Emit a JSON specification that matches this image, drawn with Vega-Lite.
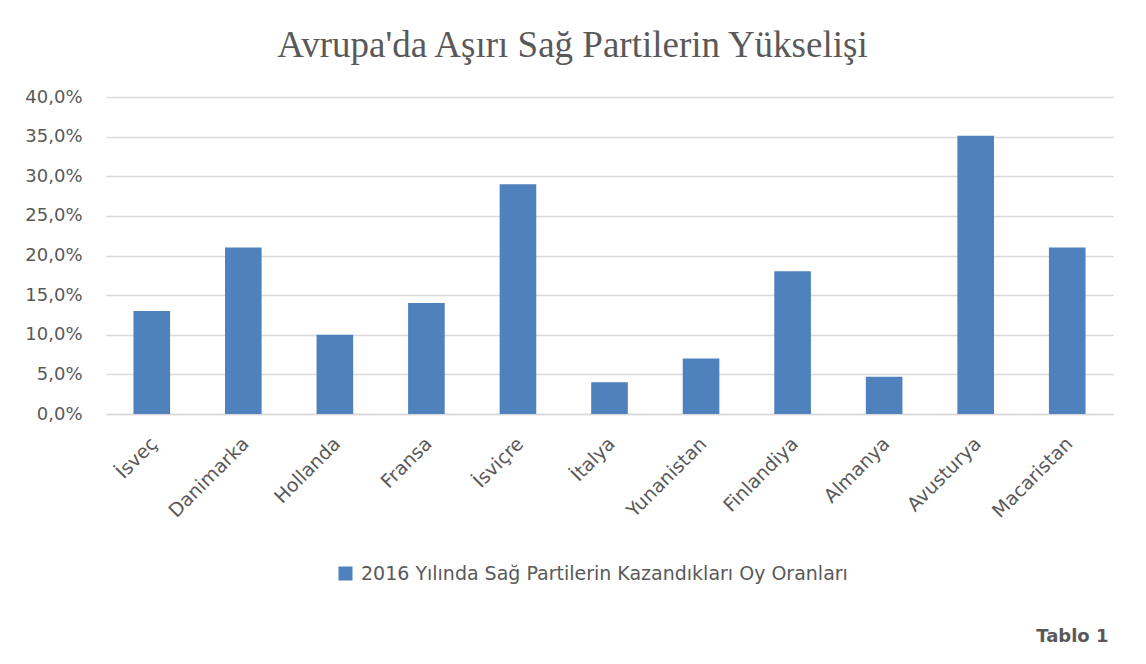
{
  "$schema": "https://vega.github.io/schema/vega-lite/v6.json",
  "autosize": "none",
  "width": 1007,
  "height": 317,
  "padding": {"left": 106, "top": 97, "right": 33, "bottom": 250},
  "background": "white",
  "config": {
    "view": {"stroke": null},
    "locale": {"number": {"decimal": ",", "thousands": ".", "grouping": [3], "currency": ["", " TL"]}},
    "font": "DejaVu Sans"
  },
  "title": {
    "text": "Avrupa'da Aşırı Sağ Partilerin Yükselişi",
    "font": "Liberation Serif",
    "fontSize": 37,
    "fontWeight": "normal",
    "color": "#595959",
    "anchor": "middle",
    "dx": -37,
    "offset": 23
  },
  "data": {
    "values": [
      {"ulke": "İsveç", "oran": 0.13, "seri": "2016 Yılında Sağ Partilerin Kazandıkları Oy Oranları"},
      {"ulke": "Danimarka", "oran": 0.21, "seri": "2016 Yılında Sağ Partilerin Kazandıkları Oy Oranları"},
      {"ulke": "Hollanda", "oran": 0.10, "seri": "2016 Yılında Sağ Partilerin Kazandıkları Oy Oranları"},
      {"ulke": "Fransa", "oran": 0.14, "seri": "2016 Yılında Sağ Partilerin Kazandıkları Oy Oranları"},
      {"ulke": "İsviçre", "oran": 0.29, "seri": "2016 Yılında Sağ Partilerin Kazandıkları Oy Oranları"},
      {"ulke": "İtalya", "oran": 0.04, "seri": "2016 Yılında Sağ Partilerin Kazandıkları Oy Oranları"},
      {"ulke": "Yunanistan", "oran": 0.07, "seri": "2016 Yılında Sağ Partilerin Kazandıkları Oy Oranları"},
      {"ulke": "Finlandiya", "oran": 0.18, "seri": "2016 Yılında Sağ Partilerin Kazandıkları Oy Oranları"},
      {"ulke": "Almanya", "oran": 0.047, "seri": "2016 Yılında Sağ Partilerin Kazandıkları Oy Oranları"},
      {"ulke": "Avusturya", "oran": 0.351, "seri": "2016 Yılında Sağ Partilerin Kazandıkları Oy Oranları"},
      {"ulke": "Macaristan", "oran": 0.21, "seri": "2016 Yılında Sağ Partilerin Kazandıkları Oy Oranları"}
    ]
  },
  "mark": {"type": "bar"},
  "encoding": {
    "x": {
      "field": "ulke",
      "type": "nominal",
      "sort": null,
      "scale": {"paddingInner": 0.6, "paddingOuter": 0.3},
      "axis": {
        "title": "Tablo 1",
        "titleFont": "DejaVu Sans",
        "titleFontSize": 18,
        "titleFontWeight": "bold",
        "titleColor": "#595959",
        "titleAnchor": "end",
        "titleAlign": "right",
        "titleX": 1002,
        "titleY": 222,
        "titleBaseline": "middle",
        "labelAngle": -45,
        "labelFontSize": 19,
        "labelColor": "#595959",
        "labelPadding": 20,
        "labelOffset": -4,
        "ticks": false,
        "domainColor": "#d9d9d9",
        "domainWidth": 1.5
      }
    },
    "y": {
      "field": "oran",
      "type": "quantitative",
      "scale": {"domain": [0, 0.4], "nice": false},
      "axis": {
        "title": null,
        "format": ".1%",
        "values": [0, 0.05, 0.1, 0.15, 0.2, 0.25, 0.3, 0.35, 0.4],
        "labelFontSize": 18,
        "labelColor": "#595959",
        "labelPadding": 24,
        "ticks": false,
        "domain": false,
        "gridColor": "#d9d9d9",
        "gridWidth": 1.5
      }
    },
    "color": {
      "field": "seri",
      "type": "nominal",
      "scale": {"range": ["#4f81bd"]},
      "legend": {
        "title": null,
        "orient": "none",
        "legendX": 230,
        "legendY": 467,
        "symbolType": "square",
        "symbolSize": 196,
        "labelFontSize": 19,
        "labelColor": "#595959",
        "labelLimit": 0,
        "labelOffset": 6
      }
    }
  }
}
